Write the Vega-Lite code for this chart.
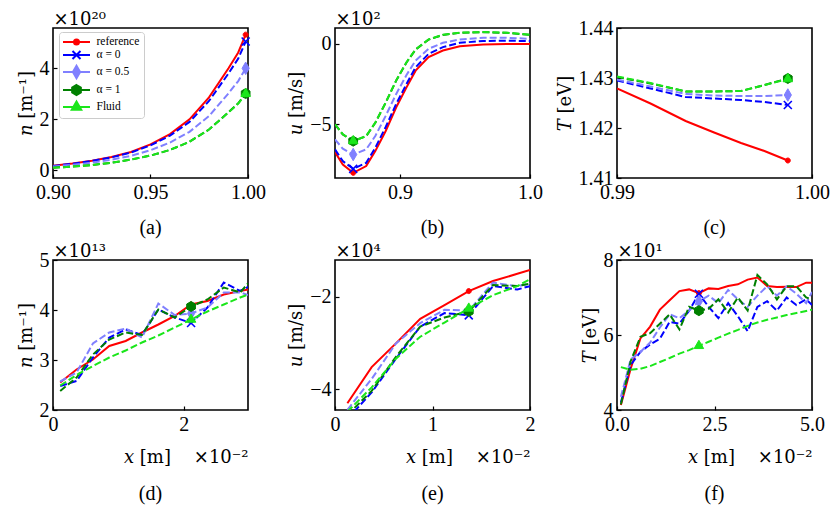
{
  "$schema": "https://vega.github.io/schema/vega-lite/v6.json",
  "background": "white",
  "padding": {"left": 16, "top": 9, "right": 5, "bottom": 5},
  "datasets": {
    "a": [
      {"s":"reference","x":0.9,"y":1.8e19},{"s":"reference","x":0.91,"y":2.7e19},{"s":"reference","x":0.92,"y":3.8e19},{"s":"reference","x":0.93,"y":5.2e19},{"s":"reference","x":0.94,"y":7.2e19},{"s":"reference","x":0.95,"y":1.02e20},{"s":"reference","x":0.96,"y":1.42e20},{"s":"reference","x":0.97,"y":2.0e20},{"s":"reference","x":0.98,"y":2.86e20},{"s":"reference","x":0.99,"y":4.0e20},{"s":"reference","x":0.995,"y":4.62e20},{"s":"reference","x":0.9988,"y":5.32e20},
      {"s":"α = 0","x":0.9,"y":1.7e19},{"s":"α = 0","x":0.91,"y":2.6e19},{"s":"α = 0","x":0.92,"y":3.7e19},{"s":"α = 0","x":0.93,"y":5.1e19},{"s":"α = 0","x":0.94,"y":7.0e19},{"s":"α = 0","x":0.95,"y":9.8e19},{"s":"α = 0","x":0.96,"y":1.36e20},{"s":"α = 0","x":0.97,"y":1.9e20},{"s":"α = 0","x":0.98,"y":2.72e20},{"s":"α = 0","x":0.99,"y":3.8e20},{"s":"α = 0","x":0.995,"y":4.38e20},{"s":"α = 0","x":0.9988,"y":5.05e20},
      {"s":"α = 0.5","x":0.9,"y":1.5e19},{"s":"α = 0.5","x":0.91,"y":2.2e19},{"s":"α = 0.5","x":0.92,"y":3.0e19},{"s":"α = 0.5","x":0.93,"y":4.2e19},{"s":"α = 0.5","x":0.94,"y":5.7e19},{"s":"α = 0.5","x":0.95,"y":7.9e19},{"s":"α = 0.5","x":0.96,"y":1.09e20},{"s":"α = 0.5","x":0.97,"y":1.51e20},{"s":"α = 0.5","x":0.98,"y":2.13e20},{"s":"α = 0.5","x":0.99,"y":3.02e20},{"s":"α = 0.5","x":0.995,"y":3.5e20},{"s":"α = 0.5","x":0.9988,"y":4.0e20},
      {"s":"α = 1","x":0.9,"y":1.0e19},{"s":"α = 1","x":0.91,"y":1.5e19},{"s":"α = 1","x":0.92,"y":2.1e19},{"s":"α = 1","x":0.93,"y":3.0e19},{"s":"α = 1","x":0.94,"y":4.2e19},{"s":"α = 1","x":0.95,"y":5.8e19},{"s":"α = 1","x":0.96,"y":8.0e19},{"s":"α = 1","x":0.97,"y":1.12e20},{"s":"α = 1","x":0.98,"y":1.6e20},{"s":"α = 1","x":0.99,"y":2.28e20},{"s":"α = 1","x":0.995,"y":2.63e20},{"s":"α = 1","x":0.9988,"y":3.01e20},
      {"s":"Fluid","x":0.9,"y":1.0e19},{"s":"Fluid","x":0.91,"y":1.5e19},{"s":"Fluid","x":0.92,"y":2.1e19},{"s":"Fluid","x":0.93,"y":3.0e19},{"s":"Fluid","x":0.94,"y":4.2e19},{"s":"Fluid","x":0.95,"y":5.8e19},{"s":"Fluid","x":0.96,"y":8.0e19},{"s":"Fluid","x":0.97,"y":1.12e20},{"s":"Fluid","x":0.98,"y":1.6e20},{"s":"Fluid","x":0.99,"y":2.27e20},{"s":"Fluid","x":0.995,"y":2.62e20},{"s":"Fluid","x":0.9988,"y":3.0e20}
    ],
    "b": [
      {"s":"reference","x":0.85,"y":-673},{"s":"reference","x":0.856,"y":-750},{"s":"reference","x":0.864,"y":-802},{"s":"reference","x":0.874,"y":-760},{"s":"reference","x":0.881,"y":-667},{"s":"reference","x":0.889,"y":-542},{"s":"reference","x":0.897,"y":-396},{"s":"reference","x":0.905,"y":-271},{"s":"reference","x":0.912,"y":-167},{"s":"reference","x":0.922,"y":-83},{"s":"reference","x":0.933,"y":-42},{"s":"reference","x":0.946,"y":-15},{"s":"reference","x":0.964,"y":-4},{"s":"reference","x":0.982,"y":-2},{"s":"reference","x":1.0,"y":-2},
      {"s":"α = 0","x":0.85,"y":-656},{"s":"α = 0","x":0.856,"y":-729},{"s":"α = 0","x":0.864,"y":-777},{"s":"α = 0","x":0.874,"y":-740},{"s":"α = 0","x":0.881,"y":-646},{"s":"α = 0","x":0.889,"y":-517},{"s":"α = 0","x":0.897,"y":-375},{"s":"α = 0","x":0.905,"y":-250},{"s":"α = 0","x":0.912,"y":-146},{"s":"α = 0","x":0.922,"y":-63},{"s":"α = 0","x":0.933,"y":-21},{"s":"α = 0","x":0.946,"y":6},{"s":"α = 0","x":0.964,"y":17},{"s":"α = 0","x":0.982,"y":19},{"s":"α = 0","x":1.0,"y":17},
      {"s":"α = 0.5","x":0.85,"y":-594},{"s":"α = 0.5","x":0.856,"y":-652},{"s":"α = 0.5","x":0.864,"y":-688},{"s":"α = 0.5","x":0.874,"y":-656},{"s":"α = 0.5","x":0.881,"y":-573},{"s":"α = 0.5","x":0.889,"y":-448},{"s":"α = 0.5","x":0.897,"y":-313},{"s":"α = 0.5","x":0.905,"y":-194},{"s":"α = 0.5","x":0.912,"y":-104},{"s":"α = 0.5","x":0.922,"y":-31},{"s":"α = 0.5","x":0.933,"y":6},{"s":"α = 0.5","x":0.946,"y":27},{"s":"α = 0.5","x":0.964,"y":37},{"s":"α = 0.5","x":0.982,"y":37},{"s":"α = 0.5","x":1.0,"y":31},
      {"s":"α = 1","x":0.85,"y":-501},{"s":"α = 1","x":0.856,"y":-563},{"s":"α = 1","x":0.864,"y":-605},{"s":"α = 1","x":0.874,"y":-574},{"s":"α = 1","x":0.881,"y":-491},{"s":"α = 1","x":0.889,"y":-366},{"s":"α = 1","x":0.897,"y":-230},{"s":"α = 1","x":0.905,"y":-116},{"s":"α = 1","x":0.912,"y":-36},{"s":"α = 1","x":0.922,"y":26},{"s":"α = 1","x":0.933,"y":55},{"s":"α = 1","x":0.946,"y":68},{"s":"α = 1","x":0.964,"y":72},{"s":"α = 1","x":0.982,"y":68},{"s":"α = 1","x":1.0,"y":55},
      {"s":"Fluid","x":0.85,"y":-500},{"s":"Fluid","x":0.856,"y":-562},{"s":"Fluid","x":0.864,"y":-604},{"s":"Fluid","x":0.874,"y":-573},{"s":"Fluid","x":0.881,"y":-490},{"s":"Fluid","x":0.889,"y":-365},{"s":"Fluid","x":0.897,"y":-229},{"s":"Fluid","x":0.905,"y":-115},{"s":"Fluid","x":0.912,"y":-35},{"s":"Fluid","x":0.922,"y":27},{"s":"Fluid","x":0.933,"y":56},{"s":"Fluid","x":0.946,"y":69},{"s":"Fluid","x":0.964,"y":73},{"s":"Fluid","x":0.982,"y":69},{"s":"Fluid","x":1.0,"y":56}
    ],
    "c": [
      {"s":"reference","x":0.99,"y":1.4279},{"s":"reference","x":0.99172,"y":1.4249},{"s":"reference","x":0.99352,"y":1.4214},{"s":"reference","x":0.99498,"y":1.4191},{"s":"reference","x":0.99636,"y":1.417},{"s":"reference","x":0.99756,"y":1.4154},{"s":"reference","x":0.99876,"y":1.4135},
      {"s":"α = 0","x":0.99,"y":1.4295},{"s":"α = 0","x":0.99172,"y":1.4279},{"s":"α = 0","x":0.99352,"y":1.4262},{"s":"α = 0","x":0.99498,"y":1.4259},{"s":"α = 0","x":0.99636,"y":1.4256},{"s":"α = 0","x":0.99756,"y":1.4252},{"s":"α = 0","x":0.99876,"y":1.4246},
      {"s":"α = 0.5","x":0.99,"y":1.4297},{"s":"α = 0.5","x":0.99172,"y":1.4283},{"s":"α = 0.5","x":0.99352,"y":1.4268},{"s":"α = 0.5","x":0.99498,"y":1.4265},{"s":"α = 0.5","x":0.99636,"y":1.4264},{"s":"α = 0.5","x":0.99756,"y":1.4264},{"s":"α = 0.5","x":0.99876,"y":1.4266},
      {"s":"α = 1","x":0.99,"y":1.4302},{"s":"α = 1","x":0.99172,"y":1.4289},{"s":"α = 1","x":0.99352,"y":1.4273},{"s":"α = 1","x":0.99498,"y":1.4273},{"s":"α = 1","x":0.99636,"y":1.4274},{"s":"α = 1","x":0.99756,"y":1.4286},{"s":"α = 1","x":0.99876,"y":1.4299},
      {"s":"Fluid","x":0.99,"y":1.4303},{"s":"Fluid","x":0.99172,"y":1.429},{"s":"Fluid","x":0.99352,"y":1.4273},{"s":"Fluid","x":0.99498,"y":1.4273},{"s":"Fluid","x":0.99636,"y":1.4274},{"s":"Fluid","x":0.99756,"y":1.4286},{"s":"Fluid","x":0.99876,"y":1.4298}
    ],
    "d": [
      {"s":"reference","x":0.0011,"y":2.55e13},{"s":"reference","x":0.0036,"y":2.81e13},{"s":"reference","x":0.0061,"y":3.01e13},{"s":"reference","x":0.0086,"y":3.28e13},{"s":"reference","x":0.0111,"y":3.38e13},{"s":"reference","x":0.0136,"y":3.55e13},{"s":"reference","x":0.0161,"y":3.71e13},{"s":"reference","x":0.0186,"y":3.88e13},{"s":"reference","x":0.0211,"y":4.11e13},{"s":"reference","x":0.0236,"y":4.18e13},{"s":"reference","x":0.0261,"y":4.31e13},{"s":"reference","x":0.0286,"y":4.38e13},{"s":"reference","x":0.0298,"y":4.41e13},
      {"s":"α = 0","x":0.0011,"y":2.48e13},{"s":"α = 0","x":0.0036,"y":2.58e13},{"s":"α = 0","x":0.0061,"y":3.05e13},{"s":"α = 0","x":0.0086,"y":3.45e13},{"s":"α = 0","x":0.0111,"y":3.61e13},{"s":"α = 0","x":0.0136,"y":3.5e13},{"s":"α = 0","x":0.0161,"y":4.01e13},{"s":"α = 0","x":0.0186,"y":3.85e13},{"s":"α = 0","x":0.0211,"y":3.74e13},{"s":"α = 0","x":0.0236,"y":4.05e13},{"s":"α = 0","x":0.0261,"y":4.55e13},{"s":"α = 0","x":0.0286,"y":4.38e13},{"s":"α = 0","x":0.0298,"y":4.46e13},
      {"s":"α = 0.5","x":0.0011,"y":2.57e13},{"s":"α = 0.5","x":0.0036,"y":2.75e13},{"s":"α = 0.5","x":0.0061,"y":3.33e13},{"s":"α = 0.5","x":0.0086,"y":3.55e13},{"s":"α = 0.5","x":0.0111,"y":3.63e13},{"s":"α = 0.5","x":0.0136,"y":3.45e13},{"s":"α = 0.5","x":0.0161,"y":4.13e13},{"s":"α = 0.5","x":0.0186,"y":3.9e13},{"s":"α = 0.5","x":0.0211,"y":3.93e13},{"s":"α = 0.5","x":0.0236,"y":4.05e13},{"s":"α = 0.5","x":0.0261,"y":4.35e13},{"s":"α = 0.5","x":0.0286,"y":4.35e13},{"s":"α = 0.5","x":0.0298,"y":4.3e13},
      {"s":"α = 1","x":0.0011,"y":2.38e13},{"s":"α = 1","x":0.0036,"y":2.65e13},{"s":"α = 1","x":0.0061,"y":3.11e13},{"s":"α = 1","x":0.0086,"y":3.41e13},{"s":"α = 1","x":0.0111,"y":3.55e13},{"s":"α = 1","x":0.0136,"y":3.5e13},{"s":"α = 1","x":0.0161,"y":4.01e13},{"s":"α = 1","x":0.0186,"y":3.85e13},{"s":"α = 1","x":0.0211,"y":4.07e13},{"s":"α = 1","x":0.0236,"y":4.21e13},{"s":"α = 1","x":0.0261,"y":4.45e13},{"s":"α = 1","x":0.0286,"y":4.35e13},{"s":"α = 1","x":0.0298,"y":4.53e13},
      {"s":"Fluid","x":0.0011,"y":2.49e13},{"s":"Fluid","x":0.0036,"y":2.7e13},{"s":"Fluid","x":0.0061,"y":2.88e13},{"s":"Fluid","x":0.0086,"y":3.05e13},{"s":"Fluid","x":0.0111,"y":3.19e13},{"s":"Fluid","x":0.0136,"y":3.35e13},{"s":"Fluid","x":0.0161,"y":3.49e13},{"s":"Fluid","x":0.0186,"y":3.65e13},{"s":"Fluid","x":0.0211,"y":3.81e13},{"s":"Fluid","x":0.0236,"y":3.97e13},{"s":"Fluid","x":0.0261,"y":4.11e13},{"s":"Fluid","x":0.0286,"y":4.25e13},{"s":"Fluid","x":0.0298,"y":4.31e13}
    ],
    "e": [
      {"s":"reference","x":0.00127,"y":-43080},{"s":"reference","x":0.00376,"y":-35240},{"s":"reference","x":0.00625,"y":-30080},{"s":"reference","x":0.00874,"y":-24760},{"s":"reference","x":0.01123,"y":-21800},{"s":"reference","x":0.01372,"y":-18750},{"s":"reference","x":0.01621,"y":-16560},{"s":"reference","x":0.0187,"y":-15000},{"s":"reference","x":0.02,"y":-14140},
      {"s":"α = 0","x":0.00127,"y":-46500},{"s":"α = 0","x":0.00376,"y":-40730},{"s":"α = 0","x":0.00625,"y":-33400},{"s":"α = 0","x":0.00874,"y":-26450},{"s":"α = 0","x":0.01123,"y":-23500},{"s":"α = 0","x":0.01372,"y":-24000},{"s":"α = 0","x":0.01621,"y":-17660},{"s":"α = 0","x":0.0187,"y":-18400},{"s":"α = 0","x":0.02,"y":-17660},
      {"s":"α = 0.5","x":0.00127,"y":-44500},{"s":"α = 0.5","x":0.00376,"y":-37800},{"s":"α = 0.5","x":0.00625,"y":-30100},{"s":"α = 0.5","x":0.00874,"y":-25700},{"s":"α = 0.5","x":0.01123,"y":-22800},{"s":"α = 0.5","x":0.01372,"y":-23000},{"s":"α = 0.5","x":0.01621,"y":-16900},{"s":"α = 0.5","x":0.0187,"y":-17700},{"s":"α = 0.5","x":0.02,"y":-17100},
      {"s":"α = 1","x":0.00127,"y":-45600},{"s":"α = 1","x":0.00376,"y":-40400},{"s":"α = 1","x":0.00625,"y":-33000},{"s":"α = 1","x":0.00874,"y":-26450},{"s":"α = 1","x":0.01123,"y":-24470},{"s":"α = 1","x":0.01372,"y":-23150},{"s":"α = 1","x":0.01621,"y":-17440},{"s":"α = 1","x":0.0187,"y":-17660},{"s":"α = 1","x":0.02,"y":-17140},
      {"s":"Fluid","x":0.00127,"y":-44900},{"s":"Fluid","x":0.00376,"y":-39630},{"s":"Fluid","x":0.00625,"y":-33400},{"s":"Fluid","x":0.00874,"y":-28640},{"s":"Fluid","x":0.01123,"y":-25570},{"s":"Fluid","x":0.01372,"y":-22500},{"s":"Fluid","x":0.01621,"y":-19630},{"s":"Fluid","x":0.0187,"y":-17660},{"s":"Fluid","x":0.02,"y":-16200}
    ],
    "f": [
      {"s":"reference","x":0.001,"y":41.35},{"s":"reference","x":0.0035,"y":50.99},{"s":"reference","x":0.006,"y":59.1},{"s":"reference","x":0.0085,"y":62.25},{"s":"reference","x":0.011,"y":66.76},{"s":"reference","x":0.0135,"y":69.28},{"s":"reference","x":0.016,"y":71.71},{"s":"reference","x":0.0185,"y":72.16},{"s":"reference","x":0.021,"y":71.17},{"s":"reference","x":0.0235,"y":72.43},{"s":"reference","x":0.026,"y":72.25},{"s":"reference","x":0.0285,"y":73.06},{"s":"reference","x":0.031,"y":73.51},{"s":"reference","x":0.0335,"y":74.77},{"s":"reference","x":0.036,"y":75.32},{"s":"reference","x":0.0385,"y":73.06},{"s":"reference","x":0.041,"y":72.79},{"s":"reference","x":0.0435,"y":72.88},{"s":"reference","x":0.046,"y":72.79},{"s":"reference","x":0.0485,"y":73.96},{"s":"reference","x":0.05,"y":73.96},
      {"s":"α = 0","x":0.001,"y":42.0},{"s":"α = 0","x":0.0035,"y":52.0},{"s":"α = 0","x":0.006,"y":55.5},{"s":"α = 0","x":0.0085,"y":57.5},{"s":"α = 0","x":0.011,"y":59.0},{"s":"α = 0","x":0.0135,"y":63.5},{"s":"α = 0","x":0.016,"y":63.0},{"s":"α = 0","x":0.0185,"y":66.5},{"s":"α = 0","x":0.021,"y":71.0},{"s":"α = 0","x":0.0235,"y":67.5},{"s":"α = 0","x":0.026,"y":64.5},{"s":"α = 0","x":0.0285,"y":68.5},{"s":"α = 0","x":0.031,"y":65.0},{"s":"α = 0","x":0.0335,"y":61.0},{"s":"α = 0","x":0.036,"y":67.5},{"s":"α = 0","x":0.0385,"y":69.0},{"s":"α = 0","x":0.041,"y":66.5},{"s":"α = 0","x":0.0435,"y":70.0},{"s":"α = 0","x":0.046,"y":68.0},{"s":"α = 0","x":0.0485,"y":69.5},{"s":"α = 0","x":0.05,"y":68.0},
      {"s":"α = 0.5","x":0.001,"y":43.5},{"s":"α = 0.5","x":0.0035,"y":53.5},{"s":"α = 0.5","x":0.006,"y":55.5},{"s":"α = 0.5","x":0.0085,"y":58.0},{"s":"α = 0.5","x":0.011,"y":62.0},{"s":"α = 0.5","x":0.0135,"y":65.5},{"s":"α = 0.5","x":0.016,"y":64.5},{"s":"α = 0.5","x":0.0185,"y":66.5},{"s":"α = 0.5","x":0.021,"y":69.0},{"s":"α = 0.5","x":0.0235,"y":70.5},{"s":"α = 0.5","x":0.026,"y":68.5},{"s":"α = 0.5","x":0.0285,"y":72.0},{"s":"α = 0.5","x":0.031,"y":69.5},{"s":"α = 0.5","x":0.0335,"y":67.5},{"s":"α = 0.5","x":0.036,"y":70.5},{"s":"α = 0.5","x":0.0385,"y":73.0},{"s":"α = 0.5","x":0.041,"y":70.5},{"s":"α = 0.5","x":0.0435,"y":73.0},{"s":"α = 0.5","x":0.046,"y":71.0},{"s":"α = 0.5","x":0.0485,"y":68.5},{"s":"α = 0.5","x":0.05,"y":71.5},
      {"s":"α = 1","x":0.001,"y":41.5},{"s":"α = 1","x":0.0035,"y":53.0},{"s":"α = 1","x":0.006,"y":59.5},{"s":"α = 1","x":0.0085,"y":60.5},{"s":"α = 1","x":0.011,"y":63.0},{"s":"α = 1","x":0.0135,"y":65.5},{"s":"α = 1","x":0.016,"y":61.5},{"s":"α = 1","x":0.0185,"y":67.5},{"s":"α = 1","x":0.021,"y":66.5},{"s":"α = 1","x":0.0235,"y":67.0},{"s":"α = 1","x":0.026,"y":69.5},{"s":"α = 1","x":0.0285,"y":66.0},{"s":"α = 1","x":0.031,"y":70.0},{"s":"α = 1","x":0.0335,"y":66.5},{"s":"α = 1","x":0.036,"y":76.0},{"s":"α = 1","x":0.0385,"y":73.5},{"s":"α = 1","x":0.041,"y":69.5},{"s":"α = 1","x":0.0435,"y":73.0},{"s":"α = 1","x":0.046,"y":73.0},{"s":"α = 1","x":0.0485,"y":70.0},{"s":"α = 1","x":0.05,"y":69.5},
      {"s":"Fluid","x":0.001,"y":51.44},{"s":"Fluid","x":0.0035,"y":50.72},{"s":"Fluid","x":0.006,"y":50.99},{"s":"Fluid","x":0.0085,"y":51.71},{"s":"Fluid","x":0.011,"y":52.79},{"s":"Fluid","x":0.0135,"y":53.87},{"s":"Fluid","x":0.016,"y":55.05},{"s":"Fluid","x":0.0185,"y":55.95},{"s":"Fluid","x":0.021,"y":57.12},{"s":"Fluid","x":0.0235,"y":58.2},{"s":"Fluid","x":0.026,"y":59.28},{"s":"Fluid","x":0.0285,"y":60.36},{"s":"Fluid","x":0.031,"y":61.35},{"s":"Fluid","x":0.0335,"y":62.43},{"s":"Fluid","x":0.036,"y":63.33},{"s":"Fluid","x":0.0385,"y":64.05},{"s":"Fluid","x":0.041,"y":64.68},{"s":"Fluid","x":0.0435,"y":65.32},{"s":"Fluid","x":0.046,"y":65.86},{"s":"Fluid","x":0.0485,"y":66.4},{"s":"Fluid","x":0.05,"y":66.76}
    ]
  },
  "columns": 3,
  "bounds": "flush",
  "spacing": {"row": 82, "column": 87},
  "resolve": {
    "scale": {"stroke": "independent", "fill": "independent", "shape": "independent"},
    "legend": {"stroke": "independent", "fill": "independent", "shape": "independent"}
  },
  "concat": [
    {
      "width": 195, "height": 150,
      "data": {"name": "a"},
      "title": {"text": "(a)", "orient": "bottom", "offset": 16},
      "resolve": {"axis": {"x": "independent"}},
      "layer": [
        {"transform": [{"filter": "datum.s === 'reference'"}],
         "mark": {"type": "line", "strokeWidth": 2, "clip": true},
         "encoding": {
           "x": {"field": "x", "type": "quantitative", "scale": {"domain": [0.9, 1.0], "nice": false, "zero": false}, "axis": {"values": [0.9, 0.95, 1.0], "labelExpr": "format(datum.value, '.2f')", "title": null}},
           "y": {"field": "y", "type": "quantitative", "scale": {"domain": [-3e19, 5.58e20], "nice": false, "zero": false}, "axis": {"values": [0, 2e20, 4e20], "labelExpr": "format(datum.value / 1e20, '.0f')", "title": "𝑛 [m⁻¹]"}},
           "stroke": {"field": "s", "type": "nominal", "scale": {"domain": ["reference", "α = 0", "α = 0.5", "α = 1", "Fluid"], "range": ["#ff0000", "#0000ff", "#8080ff", "#008000", "#1ae61a"]}}
         }},
        {"transform": [{"filter": "datum.s !== 'reference'"}],
         "mark": {"type": "line", "strokeWidth": 2, "strokeDash": [7, 3], "clip": true},
         "encoding": {
           "x": {"field": "x", "type": "quantitative", "axis": {"orient": "top", "labels": false, "ticks": false, "domain": false, "title": "×10²⁰", "titleAnchor": "start", "titlePadding": 0}},
           "y": {"field": "y", "type": "quantitative"},
           "stroke": {"field": "s", "type": "nominal"}
         }},
        {"transform": [{"filter": "datum.s === 'reference' && datum.x === 0.9988"}],
         "mark": {"type": "point", "shape": "M0.5,0A0.5,0.5 0 1,1 -0.5,0A0.5,0.5 0 1,1 0.5,0Z", "filled": true, "size": 100, "color": "#ff0000", "stroke": "#ff0000", "strokeWidth": 1, "opacity": 1},
         "encoding": {"x": {"field": "x", "type": "quantitative", "axis": null}, "y": {"field": "y", "type": "quantitative"}}},
        {"transform": [{"filter": "datum.s === 'α = 0' && datum.x === 0.9988"}],
         "mark": {"type": "point", "shape": "M-0.8,-0.8L0.8,0.8M-0.8,0.8L0.8,-0.8", "filled": false, "size": 100, "color": "#0000ff", "strokeWidth": 1.6, "opacity": 1},
         "encoding": {"x": {"field": "x", "type": "quantitative", "axis": null}, "y": {"field": "y", "type": "quantitative"}}},
        {"transform": [{"filter": "datum.s === 'α = 0.5' && datum.x === 0.9988"}],
         "mark": {"type": "point", "shape": "M0,-1.25L0.72,0L0,1.25L-0.72,0Z", "filled": true, "size": 100, "color": "#8080ff", "stroke": "#8080ff", "strokeWidth": 1, "opacity": 1},
         "encoding": {"x": {"field": "x", "type": "quantitative", "axis": null}, "y": {"field": "y", "type": "quantitative"}}},
        {"transform": [{"filter": "datum.s === 'α = 1' && datum.x === 0.9988"}],
         "mark": {"type": "point", "shape": "M0,-1L0.87,-0.5L0.87,0.5L0,1L-0.87,0.5L-0.87,-0.5Z", "filled": true, "size": 100, "color": "#008000", "stroke": "#008000", "strokeWidth": 1, "opacity": 1},
         "encoding": {"x": {"field": "x", "type": "quantitative", "axis": null}, "y": {"field": "y", "type": "quantitative"}}},
        {"transform": [{"filter": "datum.s === 'Fluid' && datum.x === 0.9988"}],
         "mark": {"type": "point", "shape": "M0,-1.1L0.95,0.55L-0.95,0.55Z", "filled": true, "size": 100, "color": "#1ae61a", "stroke": "#1ae61a", "strokeWidth": 1, "opacity": 1},
         "encoding": {"x": {"field": "x", "type": "quantitative", "axis": null}, "y": {"field": "y", "type": "quantitative"}}},
        {"transform": [{"filter": "datum.x === 0.9988"}],
         "mark": {"type": "point", "filled": true, "size": 100, "strokeWidth": 2, "opacity": 0},
         "encoding": {
           "x": {"field": "x", "type": "quantitative", "axis": null},
           "y": {"field": "y", "type": "quantitative"},
           "shape": {"field": "s", "type": "nominal", "scale": {"domain": ["reference", "α = 0", "α = 0.5", "α = 1", "Fluid"], "range": ["M-2.7,0H2.7M0.5,0A0.5,0.5 0 1,1 -0.5,0A0.5,0.5 0 1,1 0.5,0Z", "M-2.7,0H2.7M-0.8,-0.8L0.8,0.8M-0.8,0.8L0.8,-0.8", "M-2.7,0H2.7M0,-1.25L0.72,0L0,1.25L-0.72,0Z", "M-2.7,0H2.7M0,-1L0.87,-0.5L0.87,0.5L0,1L-0.87,0.5L-0.87,-0.5Z", "M-2.7,0H2.7M0,-1.1L0.95,0.55L-0.95,0.55Z"]}, "legend": {"title": null, "orient": "none", "legendX": 6, "legendY": 4}},
           "fill": {"field": "s", "type": "nominal", "scale": {"domain": ["reference", "α = 0", "α = 0.5", "α = 1", "Fluid"], "range": ["#ff0000", "#0000ff", "#8080ff", "#008000", "#1ae61a"]}, "legend": {"title": null, "orient": "none", "legendX": 6, "legendY": 4}},
           "stroke": {"field": "s", "type": "nominal", "legend": {"title": null, "orient": "none", "legendX": 6, "legendY": 4}}
         }}
      ]
    },
    {
      "width": 195, "height": 150,
      "data": {"name": "b"},
      "title": {"text": "(b)", "orient": "bottom", "offset": 16},
      "resolve": {"axis": {"x": "independent"}},
      "layer": [
        {"transform": [{"filter": "datum.s === 'reference'"}],
         "mark": {"type": "line", "strokeWidth": 2, "clip": true},
         "encoding": {
           "x": {"field": "x", "type": "quantitative", "scale": {"domain": [0.85, 1.0], "nice": false, "zero": false}, "axis": {"values": [0.9, 1.0], "labelExpr": "format(datum.value, '.1f')", "title": null}},
           "y": {"field": "y", "type": "quantitative", "scale": {"domain": [-834, 98], "nice": false, "zero": false}, "axis": {"values": [0, -500], "labelExpr": "format(datum.value / 100, '.0f')", "title": "𝑢 [m/s]"}},
           "stroke": {"field": "s", "type": "nominal", "scale": {"domain": ["reference", "α = 0", "α = 0.5", "α = 1", "Fluid"], "range": ["#ff0000", "#0000ff", "#8080ff", "#008000", "#1ae61a"]}, "legend": null}
         }},
        {"transform": [{"filter": "datum.s !== 'reference'"}],
         "mark": {"type": "line", "strokeWidth": 2, "strokeDash": [7, 3], "clip": true},
         "encoding": {
           "x": {"field": "x", "type": "quantitative", "axis": {"orient": "top", "labels": false, "ticks": false, "domain": false, "title": "×10²", "titleAnchor": "start", "titlePadding": 0}},
           "y": {"field": "y", "type": "quantitative"},
           "stroke": {"field": "s", "type": "nominal", "legend": null}
         }},
        {"transform": [{"filter": "datum.s === 'reference' && datum.x === 0.864"}],
         "mark": {"type": "point", "shape": "M0.5,0A0.5,0.5 0 1,1 -0.5,0A0.5,0.5 0 1,1 0.5,0Z", "filled": true, "size": 100, "color": "#ff0000", "stroke": "#ff0000", "strokeWidth": 1, "opacity": 1},
         "encoding": {"x": {"field": "x", "type": "quantitative", "axis": null}, "y": {"field": "y", "type": "quantitative"}}},
        {"transform": [{"filter": "datum.s === 'α = 0' && datum.x === 0.864"}],
         "mark": {"type": "point", "shape": "M-0.8,-0.8L0.8,0.8M-0.8,0.8L0.8,-0.8", "filled": false, "size": 100, "color": "#0000ff", "strokeWidth": 1.6, "opacity": 1},
         "encoding": {"x": {"field": "x", "type": "quantitative", "axis": null}, "y": {"field": "y", "type": "quantitative"}}},
        {"transform": [{"filter": "datum.s === 'α = 0.5' && datum.x === 0.864"}],
         "mark": {"type": "point", "shape": "M0,-1.25L0.72,0L0,1.25L-0.72,0Z", "filled": true, "size": 100, "color": "#8080ff", "stroke": "#8080ff", "strokeWidth": 1, "opacity": 1},
         "encoding": {"x": {"field": "x", "type": "quantitative", "axis": null}, "y": {"field": "y", "type": "quantitative"}}},
        {"transform": [{"filter": "datum.s === 'α = 1' && datum.x === 0.864"}],
         "mark": {"type": "point", "shape": "M0,-1L0.87,-0.5L0.87,0.5L0,1L-0.87,0.5L-0.87,-0.5Z", "filled": true, "size": 100, "color": "#008000", "stroke": "#008000", "strokeWidth": 1, "opacity": 1},
         "encoding": {"x": {"field": "x", "type": "quantitative", "axis": null}, "y": {"field": "y", "type": "quantitative"}}},
        {"transform": [{"filter": "datum.s === 'Fluid' && datum.x === 0.864"}],
         "mark": {"type": "point", "shape": "M0,-1.1L0.95,0.55L-0.95,0.55Z", "filled": true, "size": 100, "color": "#1ae61a", "stroke": "#1ae61a", "strokeWidth": 1, "opacity": 1},
         "encoding": {"x": {"field": "x", "type": "quantitative", "axis": null}, "y": {"field": "y", "type": "quantitative"}}}
      ]
    },
    {
      "width": 195, "height": 150,
      "data": {"name": "c"},
      "title": {"text": "(c)", "orient": "bottom", "offset": 16},
      "layer": [
        {"transform": [{"filter": "datum.s === 'reference'"}],
         "mark": {"type": "line", "strokeWidth": 2, "clip": true},
         "encoding": {
           "x": {"field": "x", "type": "quantitative", "scale": {"domain": [0.99, 1.0], "nice": false, "zero": false}, "axis": {"values": [0.99, 1.0], "labelExpr": "format(datum.value, '.2f')", "title": null}},
           "y": {"field": "y", "type": "quantitative", "scale": {"domain": [1.41, 1.44], "nice": false, "zero": false}, "axis": {"values": [1.41, 1.42, 1.43, 1.44], "labelExpr": "format(datum.value, '.2f')", "title": "𝑇 [eV]"}},
           "stroke": {"field": "s", "type": "nominal", "scale": {"domain": ["reference", "α = 0", "α = 0.5", "α = 1", "Fluid"], "range": ["#ff0000", "#0000ff", "#8080ff", "#008000", "#1ae61a"]}, "legend": null}
         }},
        {"transform": [{"filter": "datum.s !== 'reference'"}],
         "mark": {"type": "line", "strokeWidth": 2, "strokeDash": [7, 3], "clip": true},
         "encoding": {
           "x": {"field": "x", "type": "quantitative"},
           "y": {"field": "y", "type": "quantitative"},
           "stroke": {"field": "s", "type": "nominal", "legend": null}
         }},
        {"transform": [{"filter": "datum.s === 'reference' && datum.x === 0.99876"}],
         "mark": {"type": "point", "shape": "M0.5,0A0.5,0.5 0 1,1 -0.5,0A0.5,0.5 0 1,1 0.5,0Z", "filled": true, "size": 100, "color": "#ff0000", "stroke": "#ff0000", "strokeWidth": 1, "opacity": 1},
         "encoding": {"x": {"field": "x", "type": "quantitative"}, "y": {"field": "y", "type": "quantitative"}}},
        {"transform": [{"filter": "datum.s === 'α = 0' && datum.x === 0.99876"}],
         "mark": {"type": "point", "shape": "M-0.8,-0.8L0.8,0.8M-0.8,0.8L0.8,-0.8", "filled": false, "size": 100, "color": "#0000ff", "strokeWidth": 1.6, "opacity": 1},
         "encoding": {"x": {"field": "x", "type": "quantitative"}, "y": {"field": "y", "type": "quantitative"}}},
        {"transform": [{"filter": "datum.s === 'α = 0.5' && datum.x === 0.99876"}],
         "mark": {"type": "point", "shape": "M0,-1.25L0.72,0L0,1.25L-0.72,0Z", "filled": true, "size": 100, "color": "#8080ff", "stroke": "#8080ff", "strokeWidth": 1, "opacity": 1},
         "encoding": {"x": {"field": "x", "type": "quantitative"}, "y": {"field": "y", "type": "quantitative"}}},
        {"transform": [{"filter": "datum.s === 'α = 1' && datum.x === 0.99876"}],
         "mark": {"type": "point", "shape": "M0,-1L0.87,-0.5L0.87,0.5L0,1L-0.87,0.5L-0.87,-0.5Z", "filled": true, "size": 100, "color": "#008000", "stroke": "#008000", "strokeWidth": 1, "opacity": 1},
         "encoding": {"x": {"field": "x", "type": "quantitative"}, "y": {"field": "y", "type": "quantitative"}}},
        {"transform": [{"filter": "datum.s === 'Fluid' && datum.x === 0.99876"}],
         "mark": {"type": "point", "shape": "M0,-1.1L0.95,0.55L-0.95,0.55Z", "filled": true, "size": 100, "color": "#1ae61a", "stroke": "#1ae61a", "strokeWidth": 1, "opacity": 1},
         "encoding": {"x": {"field": "x", "type": "quantitative"}, "y": {"field": "y", "type": "quantitative"}}}
      ]
    },
    {
      "width": 195, "height": 150,
      "data": {"name": "d"},
      "title": {"text": "(d)", "orient": "bottom", "offset": 18},
      "resolve": {"axis": {"x": "independent"}},
      "layer": [
        {"transform": [{"filter": "datum.s === 'reference'"}],
         "mark": {"type": "line", "strokeWidth": 2, "clip": true},
         "encoding": {
           "x": {"field": "x", "type": "quantitative", "scale": {"domain": [0, 0.0298], "nice": false, "zero": false}, "axis": {"values": [0, 0.02], "labelExpr": "format(datum.value * 100, '.0f')", "title": "𝑥 [m]\u00a0\u00a0\u00a0\u00a0×10⁻²", "titleAnchor": "end", "titlePadding": 14}},
           "y": {"field": "y", "type": "quantitative", "scale": {"domain": [2e13, 5e13], "nice": false, "zero": false}, "axis": {"values": [2e13, 3e13, 4e13, 5e13], "labelExpr": "format(datum.value / 1e13, '.0f')", "title": "𝑛 [m⁻¹]"}},
           "stroke": {"field": "s", "type": "nominal", "scale": {"domain": ["reference", "α = 0", "α = 0.5", "α = 1", "Fluid"], "range": ["#ff0000", "#0000ff", "#8080ff", "#008000", "#1ae61a"]}, "legend": null}
         }},
        {"transform": [{"filter": "datum.s !== 'reference'"}],
         "mark": {"type": "line", "strokeWidth": 2, "strokeDash": [7, 3], "clip": true},
         "encoding": {
           "x": {"field": "x", "type": "quantitative", "axis": {"orient": "top", "labels": false, "ticks": false, "domain": false, "title": "×10¹³", "titleAnchor": "start", "titlePadding": 0}},
           "y": {"field": "y", "type": "quantitative"},
           "stroke": {"field": "s", "type": "nominal", "legend": null}
         }},
        {"transform": [{"filter": "datum.s === 'reference' && datum.x === 0.0211"}],
         "mark": {"type": "point", "shape": "M0.5,0A0.5,0.5 0 1,1 -0.5,0A0.5,0.5 0 1,1 0.5,0Z", "filled": true, "size": 100, "color": "#ff0000", "stroke": "#ff0000", "strokeWidth": 1, "opacity": 1},
         "encoding": {"x": {"field": "x", "type": "quantitative", "axis": null}, "y": {"field": "y", "type": "quantitative"}}},
        {"transform": [{"filter": "datum.s === 'α = 0' && datum.x === 0.0211"}],
         "mark": {"type": "point", "shape": "M-0.8,-0.8L0.8,0.8M-0.8,0.8L0.8,-0.8", "filled": false, "size": 100, "color": "#0000ff", "strokeWidth": 1.6, "opacity": 1},
         "encoding": {"x": {"field": "x", "type": "quantitative", "axis": null}, "y": {"field": "y", "type": "quantitative"}}},
        {"transform": [{"filter": "datum.s === 'α = 0.5' && datum.x === 0.0211"}],
         "mark": {"type": "point", "shape": "M0,-1.25L0.72,0L0,1.25L-0.72,0Z", "filled": true, "size": 100, "color": "#8080ff", "stroke": "#8080ff", "strokeWidth": 1, "opacity": 1},
         "encoding": {"x": {"field": "x", "type": "quantitative", "axis": null}, "y": {"field": "y", "type": "quantitative"}}},
        {"transform": [{"filter": "datum.s === 'α = 1' && datum.x === 0.0211"}],
         "mark": {"type": "point", "shape": "M0,-1L0.87,-0.5L0.87,0.5L0,1L-0.87,0.5L-0.87,-0.5Z", "filled": true, "size": 100, "color": "#008000", "stroke": "#008000", "strokeWidth": 1, "opacity": 1},
         "encoding": {"x": {"field": "x", "type": "quantitative", "axis": null}, "y": {"field": "y", "type": "quantitative"}}},
        {"transform": [{"filter": "datum.s === 'Fluid' && datum.x === 0.0211"}],
         "mark": {"type": "point", "shape": "M0,-1.1L0.95,0.55L-0.95,0.55Z", "filled": true, "size": 100, "color": "#1ae61a", "stroke": "#1ae61a", "strokeWidth": 1, "opacity": 1},
         "encoding": {"x": {"field": "x", "type": "quantitative", "axis": null}, "y": {"field": "y", "type": "quantitative"}}}
      ]
    },
    {
      "width": 195, "height": 150,
      "data": {"name": "e"},
      "title": {"text": "(e)", "orient": "bottom", "offset": 18},
      "resolve": {"axis": {"x": "independent"}},
      "layer": [
        {"transform": [{"filter": "datum.s === 'reference'"}],
         "mark": {"type": "line", "strokeWidth": 2, "clip": true},
         "encoding": {
           "x": {"field": "x", "type": "quantitative", "scale": {"domain": [0, 0.02], "nice": false, "zero": false}, "axis": {"values": [0, 0.01, 0.02], "labelExpr": "format(datum.value * 100, '.0f')", "title": "𝑥 [m]\u00a0\u00a0\u00a0\u00a0×10⁻²", "titleAnchor": "end", "titlePadding": 14}},
           "y": {"field": "y", "type": "quantitative", "scale": {"domain": [-44540, -12000], "nice": false, "zero": false}, "axis": {"values": [-20000, -40000], "labelExpr": "format(datum.value / 10000, '.0f')", "title": "𝑢 [m/s]"}},
           "stroke": {"field": "s", "type": "nominal", "scale": {"domain": ["reference", "α = 0", "α = 0.5", "α = 1", "Fluid"], "range": ["#ff0000", "#0000ff", "#8080ff", "#008000", "#1ae61a"]}, "legend": null}
         }},
        {"transform": [{"filter": "datum.s !== 'reference'"}],
         "mark": {"type": "line", "strokeWidth": 2, "strokeDash": [7, 3], "clip": true},
         "encoding": {
           "x": {"field": "x", "type": "quantitative", "axis": {"orient": "top", "labels": false, "ticks": false, "domain": false, "title": "×10⁴", "titleAnchor": "start", "titlePadding": 0}},
           "y": {"field": "y", "type": "quantitative"},
           "stroke": {"field": "s", "type": "nominal", "legend": null}
         }},
        {"transform": [{"filter": "datum.s === 'reference' && datum.x === 0.01372"}],
         "mark": {"type": "point", "shape": "M0.5,0A0.5,0.5 0 1,1 -0.5,0A0.5,0.5 0 1,1 0.5,0Z", "filled": true, "size": 100, "color": "#ff0000", "stroke": "#ff0000", "strokeWidth": 1, "opacity": 1},
         "encoding": {"x": {"field": "x", "type": "quantitative", "axis": null}, "y": {"field": "y", "type": "quantitative"}}},
        {"transform": [{"filter": "datum.s === 'α = 0' && datum.x === 0.01372"}],
         "mark": {"type": "point", "shape": "M-0.8,-0.8L0.8,0.8M-0.8,0.8L0.8,-0.8", "filled": false, "size": 100, "color": "#0000ff", "strokeWidth": 1.6, "opacity": 1},
         "encoding": {"x": {"field": "x", "type": "quantitative", "axis": null}, "y": {"field": "y", "type": "quantitative"}}},
        {"transform": [{"filter": "datum.s === 'α = 0.5' && datum.x === 0.01372"}],
         "mark": {"type": "point", "shape": "M0,-1.25L0.72,0L0,1.25L-0.72,0Z", "filled": true, "size": 100, "color": "#8080ff", "stroke": "#8080ff", "strokeWidth": 1, "opacity": 1},
         "encoding": {"x": {"field": "x", "type": "quantitative", "axis": null}, "y": {"field": "y", "type": "quantitative"}}},
        {"transform": [{"filter": "datum.s === 'α = 1' && datum.x === 0.01372"}],
         "mark": {"type": "point", "shape": "M0,-1L0.87,-0.5L0.87,0.5L0,1L-0.87,0.5L-0.87,-0.5Z", "filled": true, "size": 100, "color": "#008000", "stroke": "#008000", "strokeWidth": 1, "opacity": 1},
         "encoding": {"x": {"field": "x", "type": "quantitative", "axis": null}, "y": {"field": "y", "type": "quantitative"}}},
        {"transform": [{"filter": "datum.s === 'Fluid' && datum.x === 0.01372"}],
         "mark": {"type": "point", "shape": "M0,-1.1L0.95,0.55L-0.95,0.55Z", "filled": true, "size": 100, "color": "#1ae61a", "stroke": "#1ae61a", "strokeWidth": 1, "opacity": 1},
         "encoding": {"x": {"field": "x", "type": "quantitative", "axis": null}, "y": {"field": "y", "type": "quantitative"}}}
      ]
    },
    {
      "width": 195, "height": 150,
      "data": {"name": "f"},
      "title": {"text": "(f)", "orient": "bottom", "offset": 18},
      "resolve": {"axis": {"x": "independent"}},
      "layer": [
        {"transform": [{"filter": "datum.s === 'reference'"}],
         "mark": {"type": "line", "strokeWidth": 2, "clip": true},
         "encoding": {
           "x": {"field": "x", "type": "quantitative", "scale": {"domain": [0, 0.05], "nice": false, "zero": false}, "axis": {"values": [0, 0.025, 0.05], "labelExpr": "format(datum.value * 100, '.1f')", "title": "𝑥 [m]\u00a0\u00a0\u00a0\u00a0×10⁻²", "titleAnchor": "end", "titlePadding": 14}},
           "y": {"field": "y", "type": "quantitative", "scale": {"domain": [40, 80], "nice": false, "zero": false}, "axis": {"values": [40, 60, 80], "labelExpr": "format(datum.value / 10, '.0f')", "title": "𝑇 [eV]"}},
           "stroke": {"field": "s", "type": "nominal", "scale": {"domain": ["reference", "α = 0", "α = 0.5", "α = 1", "Fluid"], "range": ["#ff0000", "#0000ff", "#8080ff", "#008000", "#1ae61a"]}, "legend": null}
         }},
        {"transform": [{"filter": "datum.s !== 'reference'"}],
         "mark": {"type": "line", "strokeWidth": 2, "strokeDash": [7, 3], "clip": true},
         "encoding": {
           "x": {"field": "x", "type": "quantitative", "axis": {"orient": "top", "labels": false, "ticks": false, "domain": false, "title": "×10¹", "titleAnchor": "start", "titlePadding": 0}},
           "y": {"field": "y", "type": "quantitative"},
           "stroke": {"field": "s", "type": "nominal", "legend": null}
         }},
        {"transform": [{"filter": "datum.s === 'reference' && datum.x === 0.021"}],
         "mark": {"type": "point", "shape": "M0.5,0A0.5,0.5 0 1,1 -0.5,0A0.5,0.5 0 1,1 0.5,0Z", "filled": true, "size": 100, "color": "#ff0000", "stroke": "#ff0000", "strokeWidth": 1, "opacity": 1},
         "encoding": {"x": {"field": "x", "type": "quantitative", "axis": null}, "y": {"field": "y", "type": "quantitative"}}},
        {"transform": [{"filter": "datum.s === 'α = 0' && datum.x === 0.021"}],
         "mark": {"type": "point", "shape": "M-0.8,-0.8L0.8,0.8M-0.8,0.8L0.8,-0.8", "filled": false, "size": 100, "color": "#0000ff", "strokeWidth": 1.6, "opacity": 1},
         "encoding": {"x": {"field": "x", "type": "quantitative", "axis": null}, "y": {"field": "y", "type": "quantitative"}}},
        {"transform": [{"filter": "datum.s === 'α = 0.5' && datum.x === 0.021"}],
         "mark": {"type": "point", "shape": "M0,-1.25L0.72,0L0,1.25L-0.72,0Z", "filled": true, "size": 100, "color": "#8080ff", "stroke": "#8080ff", "strokeWidth": 1, "opacity": 1},
         "encoding": {"x": {"field": "x", "type": "quantitative", "axis": null}, "y": {"field": "y", "type": "quantitative"}}},
        {"transform": [{"filter": "datum.s === 'α = 1' && datum.x === 0.021"}],
         "mark": {"type": "point", "shape": "M0,-1L0.87,-0.5L0.87,0.5L0,1L-0.87,0.5L-0.87,-0.5Z", "filled": true, "size": 100, "color": "#008000", "stroke": "#008000", "strokeWidth": 1, "opacity": 1},
         "encoding": {"x": {"field": "x", "type": "quantitative", "axis": null}, "y": {"field": "y", "type": "quantitative"}}},
        {"transform": [{"filter": "datum.s === 'Fluid' && datum.x === 0.021"}],
         "mark": {"type": "point", "shape": "M0,-1.1L0.95,0.55L-0.95,0.55Z", "filled": true, "size": 100, "color": "#1ae61a", "stroke": "#1ae61a", "strokeWidth": 1, "opacity": 1},
         "encoding": {"x": {"field": "x", "type": "quantitative", "axis": null}, "y": {"field": "y", "type": "quantitative"}}}
      ]
    }
  ],
  "config": {
    "font": "Liberation Serif",
    "view": {"stroke": "#000000", "strokeWidth": 1.6},
    "axis": {
      "grid": false, "domain": false,
      "labelFont": "Liberation Serif", "labelFontSize": 20, "labelColor": "#000000",
      "labelFlush": false, "labelOverlap": false, "labelBound": false,
      "tickColor": "#000000", "tickSize": -4, "tickWidth": 1.2, "labelPadding": 8,
      "titleFont": "DejaVu Serif", "titleFontSize": 18, "titleFontWeight": "normal", "titleColor": "#000000", "titlePadding": 4
    },
    "title": {"font": "Liberation Serif", "fontSize": 20, "fontWeight": "normal", "color": "#000000"},
    "legend": {
      "orient": "none", "legendX": 6, "legendY": 4,
      "labelFont": "Liberation Serif", "labelFontSize": 11.5, "labelColor": "#000000",
      "symbolSize": 100, "symbolStrokeWidth": 2, "symbolOffset": 7.5, "labelOffset": 14,
      "symbolOpacity": 1, "rowPadding": -2, "padding": 4,
      "strokeColor": "#cccccc", "fillColor": "rgba(255,255,255,0.85)", "cornerRadius": 3
    }
  }
}
